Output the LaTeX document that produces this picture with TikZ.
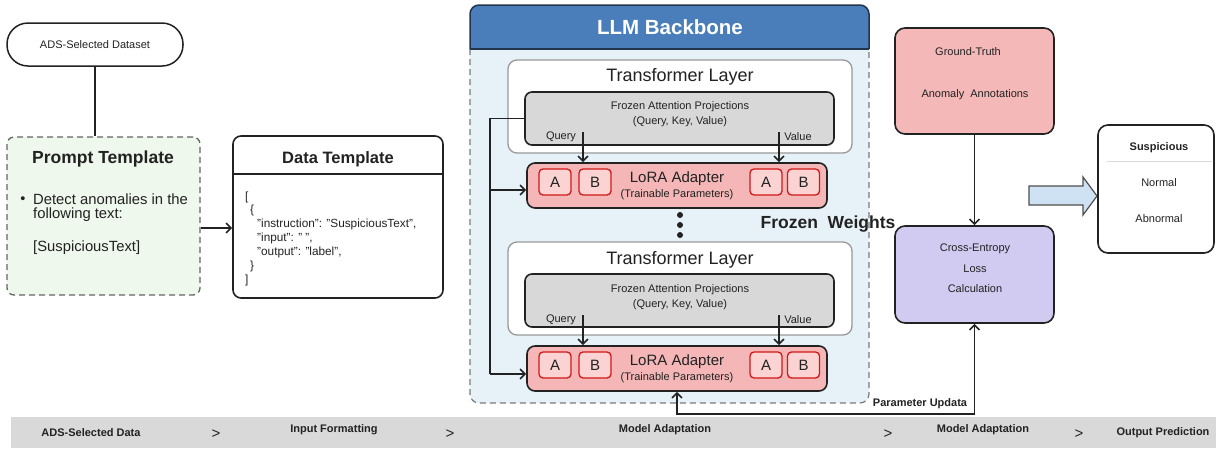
\documentclass[tikz,border=0pt]{standalone}
\usepackage{fontspec}
\setmainfont{Liberation Sans}
\usetikzlibrary{arrows.meta}
\definecolor{promptg}{HTML}{EEF8EC}
\definecolor{llmblue}{HTML}{4A7EBB}
\definecolor{llmborder}{HTML}{23344F}
\definecolor{contblue}{HTML}{E7F2F8}
\definecolor{loraf}{HTML}{F4B6B6}
\definecolor{abf}{HTML}{FBD3D3}
\definecolor{abd}{HTML}{D01818}
\definecolor{grayf}{HTML}{D8D8D8}
\definecolor{gtf}{HTML}{F4B8B8}
\definecolor{cef}{HTML}{D1CAF1}
\definecolor{barrowc}{HTML}{CFE2F3}
\definecolor{barg}{HTML}{D9D9D9}
\definecolor{ink}{HTML}{222222}
\newcommand\fsz[1]{\fontsize{#1}{#1}\selectfont}
\begin{document}
\begin{tikzpicture}[x=1pt,y=-1pt,
  every node/.style={inner sep=0pt, text=ink},
  sz/.style n args={2}{minimum width=#1pt, minimum height=#2pt},
  conn/.style={draw=ink, line width=1.6pt},
  arr/.style={conn, -{Straight Barb[length=5pt,width=10pt]}},
  darr/.style={conn, {Straight Barb[length=5pt,width=10pt]}-{Straight Barb[length=5pt,width=10pt]}},
  abbox/.style={draw=abd, fill=abf, line width=1.3pt, rounded corners=4pt, sz={32}{26}, font=\fsz{15}},
  tlayer/.style={draw=gray!80, line width=1.3pt, fill=white, rounded corners=9pt, sz={344}{93}},
  frozen/.style={draw=ink, fill=grayf, line width=1.6pt, rounded corners=7pt, sz={309}{53}},
  lorabox/.style={draw=ink, fill=loraf, line width=1.6pt, rounded corners=8pt, sz={300}{45}},
  small/.style={font=\fsz{11}},
  json/.style={anchor=west, font=\fsz{11.8}},
  barlbl/.style={font=\bfseries\fsz{11}},
  barsep/.style={font=\fsz{15}},
  sidebox/.style={draw=ink, line width=1.6pt, rounded corners=10pt}
]
\useasboundingbox (0,0) rectangle (1216,448);

% ---------- left column ----------
\node[draw=ink, line width=1.5pt, rounded corners=21pt, sz={176}{43}, font=\fsz{11}] (ads) at (95,44.5) {ADS-Selected Dataset};
\node[draw=ink!70, dash pattern=on 6pt off 4pt, line width=1.3pt, fill=promptg, rounded corners=7pt, sz={193}{158}] (prompt) at (103.5,216) {};
\draw[conn] (ads.south) -- (ads.south |- prompt.north);
\node[font=\bfseries\fsz{17.5}] (ptitle) at (103,159) {Prompt Template};
\node[font=\fsz{14.5}] (pbul) at (23,200) {\textbullet};
\node[anchor=west, font=\fsz{14.8}] (pl1) at (33,199) {Detect anomalies in the};
\node[anchor=west, font=\fsz{14.8}] (pl2) at (33,215) {following text:};
\node[anchor=west, font=\fsz{14.8}] (pl3) at (33,248) {[SuspiciousText]};

% ---------- data template ----------
\node[draw=ink, line width=1.6pt, rounded corners=8pt, sz={210}{162}] (data) at (338,217) {};
\draw[draw=ink, line width=1.3pt] (233,174) -- (443,174);
\node[font=\bfseries\fsz{16.5}] (dtitle) at (338,159) {Data Template};
\node[json] (j1) at (245,197) {[};
\node[json] (j2) at (250,210) {\{};
\node[json] (j3) at (257,224) {"instruction": "SuspiciousText",};
\node[json] (j4) at (257,238) {"input": " ",};
\node[json] (j5) at (257,252) {"output": "label",};
\node[json] (j6) at (250,266) {\}};
\node[json] (j7) at (245,280) {]};
\coordinate (pd) at (200,228);
\draw[arr] (prompt.east |- pd) -- (data.west |- pd);

% ---------- LLM backbone ----------
\path[fill=contblue, draw=ink!60, dash pattern=on 6pt off 4pt, line width=1.2pt, rounded corners=9pt] (470,49) -- (470,403) -- (869,403) -- (869,49);
\path[fill=llmblue, draw=llmborder, line width=1.5pt, rounded corners=9pt] (470,49) -- (470,5) -- (869,5) -- (869,49);
\draw[llmborder, line width=1.5pt] (470,49) -- (869,49);
\node[font=\bfseries\fsz{20.5}, text=white] (llm) at (670,27) {LLM Backbone};

% layer 1
\node[tlayer] (tl1) at (680,106.5) {};
\node[font=\fsz{18}] (tl1t) at (680,77) {Transformer Layer};
\node[frozen] (g1) at (679.5,118.5) {};
\node[small] (g1a) at (680,107) {Frozen Attention Projections};
\node[small] (g1b) at (680,122) {(Query, Key, Value)};
\node[small] (q1l) at (561,137) {Query};
\node[small] (v1l) at (798,137) {Value};
\node[lorabox] (lora1) at (677,185.5) {};
\node[abbox] (a1) at (555,182) {A};
\node[abbox] (b1) at (595,182) {B};
\node[abbox] (a2) at (766,182) {A};
\node[abbox] (b2) at (803.5,182) {B};
\node[font=\fsz{15}] (l1a) at (677,179) {LoRA Adapter};
\node[small] (l1b) at (677,194.5) {(Trainable Parameters)};
\coordinate (q1) at (583,132);
\coordinate (v1) at (779,132);
\draw[arr] (q1) -- (q1 |- lora1.north);
\draw[arr] (v1) -- (v1 |- lora1.north);

% dots
\fill[ink] (680,215) circle (3pt);
\fill[ink] (680,225) circle (3pt);
\fill[ink] (680,235) circle (3pt);
\node[font=\bfseries\fsz{17.5}] (fw) at (828,224) {Frozen\ \ Weights};

% layer 2
\node[tlayer] (tl2) at (680,288.5) {};
\node[font=\fsz{18}] (tl2t) at (680,260) {Transformer Layer};
\node[frozen] (g2) at (679.5,300.5) {};
\node[small] (g2a) at (680,290) {Frozen Attention Projections};
\node[small] (g2b) at (680,305) {(Query, Key, Value)};
\node[small] (q2l) at (561,320) {Query};
\node[small] (v2l) at (798,320) {Value};
\node[lorabox] (lora2) at (677,368.5) {};
\node[abbox] (a3) at (555,365) {A};
\node[abbox] (b3) at (595,365) {B};
\node[abbox] (a4) at (766,365) {A};
\node[abbox] (b4) at (803.5,365) {B};
\node[font=\fsz{15}] (l2a) at (677,362) {LoRA Adapter};
\node[small] (l2b) at (677,377.5) {(Trainable Parameters)};
\coordinate (q2) at (583,315);
\coordinate (v2) at (779,315);
\draw[arr] (q2) -- (q2 |- lora2.north);
\draw[arr] (v2) -- (v2 |- lora2.north);

% bus on the left
\coordinate (busT) at (490,118.5);
\coordinate (bus1) at (490,190);
\coordinate (bus2) at (490,374);
\draw[conn] (g1.west) -- (busT) -- (bus2);
\draw[arr] (bus1) -- (lora1.west |- bus1);
\draw[arr] (bus2) -- (lora2.west |- bus2);

% ---------- right column ----------
\node[sidebox, fill=gtf, sz={159}{106}] (gt) at (974.5,81) {};
\node[small] (gt1) at (968,52) {Ground-Truth};
\node[small] (gt2) at (975,95) {Anomaly\ \ Annotations};
\node[sidebox, fill=cef, sz={159}{97}] (ce) at (974.5,274.5) {};
\node[small] (ce1) at (975,249) {Cross-Entropy};
\node[small] (ce2) at (975,269) {Loss};
\node[small] (ce3) at (975,289) {Calculation};
\draw[arr] (gt.south) -- (ce.north);

\coordinate (pu) at (677,414);
\draw[darr] (lora2.south) -- (lora2.south |- pu) -- (ce.south |- pu) -- (ce.south);
\node[font=\bfseries\fsz{11}] (pul) at (920,404) {Parameter Updata};

% block arrow
\path[draw=ink!80, fill=barrowc, line width=1.2pt] (1029,186) -- (1083,186) -- (1083,177) -- (1097,196) -- (1083,215) -- (1083,205) -- (1029,205) -- cycle;

% output
\node[sidebox, fill=white, sz={116}{128}] (out) at (1156,189) {};
\node[font=\bfseries\fsz{11}] (o1) at (1159,148) {Suspicious};
\draw[gray!30, line width=1pt] (1107,161) -- (1212,161);
\node[small] (o2) at (1159,183) {Normal};
\node[small] (o3) at (1159,219) {Abnormal};

% ---------- bottom bar ----------
\fill[barg] (11,417) rectangle (1216,448);
\node[barlbl] (s1) at (91,433) {ADS-Selected Data};
\node[barsep] (c1) at (216,434) {>};
\node[barlbl] (s2) at (334,430) {Input Formatting};
\node[barsep] (c2) at (450,434) {>};
\node[barlbl] (s3) at (665,430) {Model Adaptation};
\node[barsep] (c3) at (888,434) {>};
\node[barlbl] (s4) at (983,430) {Model Adaptation};
\node[barsep] (c4) at (1079,434) {>};
\node[barlbl] (s5) at (1163,433) {Output Prediction};
\end{tikzpicture}
\end{document}
